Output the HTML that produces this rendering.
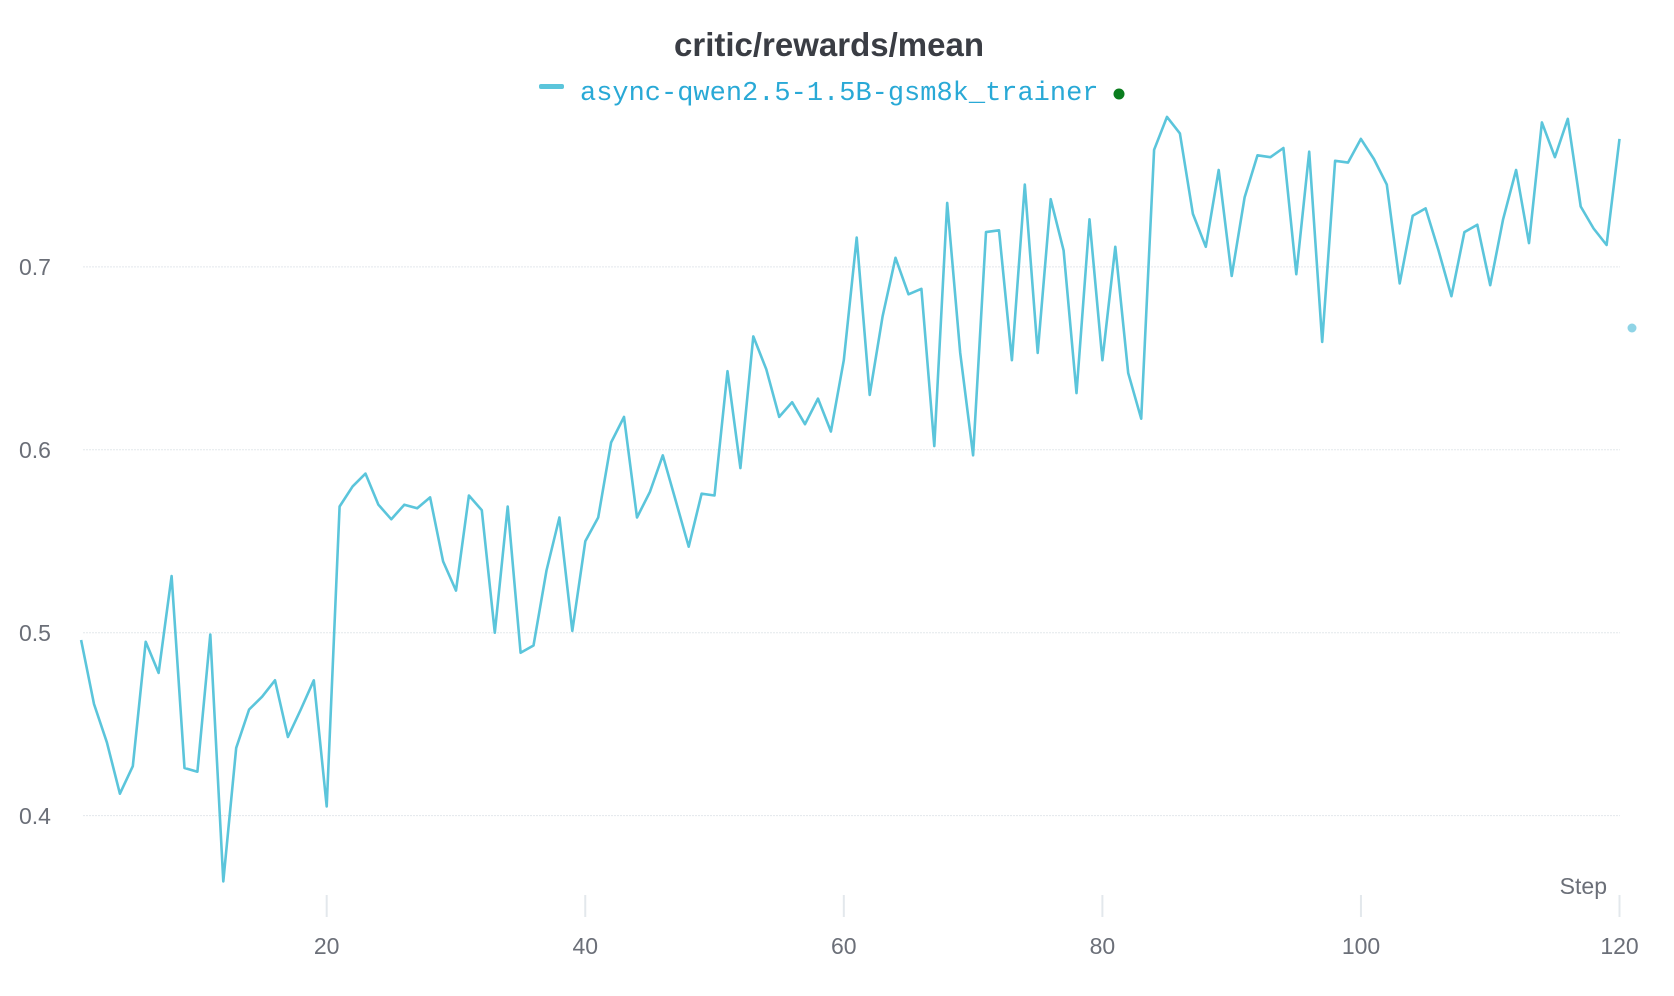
<!DOCTYPE html>
<html><head><meta charset="utf-8"><style>
html,body{margin:0;padding:0;background:#fff;}
svg{display:block;}
</style></head><body>
<svg id="s" width="1674" height="996" xmlns="http://www.w3.org/2000/svg">
<text x="829" y="56" text-anchor="middle" font-family="Liberation Sans, sans-serif" font-weight="bold" font-size="33" fill="#3a3d44">critic/rewards/mean</text>
<rect x="539" y="84" width="25" height="5" rx="2" fill="#5bc5db"/>
<text x="580" y="100" font-family="Liberation Mono, monospace" font-size="27" fill="#29a9d6">async-qwen2.5-1.5B-gsm8k_trainer</text>
<circle cx="1119" cy="94" r="5.5" fill="#0a7d1e"/>
<g id="grid" stroke="#e3e8ec" stroke-width="1"></g>
<g font-family="Liberation Sans, sans-serif" font-size="23" fill="#6b6f78">
<text x="19" y="275">0.7</text>
<text x="19" y="458">0.6</text>
<text x="19" y="641">0.5</text>
<text x="19" y="824">0.4</text>
<text x="326.7" y="954" text-anchor="middle">20</text>
<text x="585.3" y="954" text-anchor="middle">40</text>
<text x="843.8" y="954" text-anchor="middle">60</text>
<text x="1102.4" y="954" text-anchor="middle">80</text>
<text x="1361" y="954" text-anchor="middle">100</text>
<text x="1619.5" y="954" text-anchor="middle">120</text>
<text x="1607" y="894" text-anchor="end">Step</text>
</g>
<polyline id="ln" fill="none" stroke="#5bc5db" stroke-width="2.6" stroke-linejoin="round"/>
<circle cx="1632" cy="328" r="4.5" fill="#8fd4e6"/>
</svg>
<script>
var v=[0.496,0.461,0.44,0.412,0.427,0.495,0.478,0.531,0.426,0.424,0.499,0.364,0.437,0.458,0.465,0.474,0.443,0.458,0.474,0.405,
0.569,0.580,0.587,0.570,0.562,0.570,0.568,0.574,0.539,0.523,0.575,0.567,0.500,0.569,0.489,0.493,0.534,0.563,0.501,0.550,
0.563,0.604,0.618,0.563,0.577,0.597,0.572,0.547,0.576,0.575,0.643,0.590,0.662,0.644,0.618,0.626,0.614,0.628,0.610,0.649,
0.716,0.630,0.673,0.705,0.685,0.688,0.602,0.735,0.653,0.597,0.719,0.720,0.649,0.745,0.653,0.737,0.709,0.631,0.726,0.649,
0.711,0.642,0.617,0.764,0.782,0.773,0.729,0.711,0.753,0.695,0.738,0.761,0.760,0.765,0.696,0.763,0.659,0.758,0.757,0.770,
0.759,0.745,0.691,0.728,0.732,0.709,0.684,0.719,0.723,0.690,0.726,0.753,0.713,0.779,0.760,0.781,0.733,0.721,0.712,0.770];
function X(s){return 326.7+(s-20)*12.928;}
function Y(a){return 815.6-(a-0.4)*1829;}
var p=v.map(function(a,i){return X(i+1).toFixed(1)+","+Y(a).toFixed(1);}).join(" ");
document.getElementById("ln").setAttribute("points",p);
var g=document.getElementById("grid"),h="";
[0.4,0.5,0.6,0.7].forEach(function(a){h+='<line x1="83" x2="1620" y1="'+Y(a)+'" y2="'+Y(a)+'" stroke-dasharray="2,1"/>';});
[20,40,60,80,100,120].forEach(function(s){h+='<line x1="'+X(s)+'" x2="'+X(s)+'" y1="895" y2="917" stroke-width="2"/>';});
g.innerHTML=h;
</script>
</body></html>
